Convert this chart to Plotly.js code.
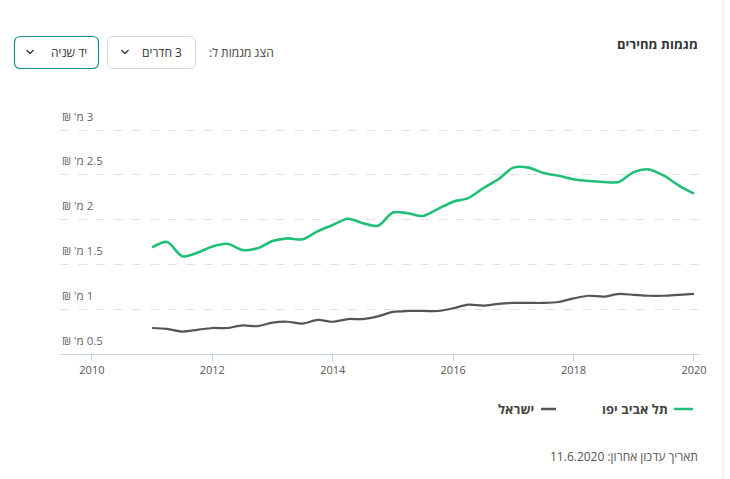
<!DOCTYPE html>
<html><head><meta charset="utf-8">
<script src="https://cdn.plot.ly/plotly-3.0.1.min.js"></script>
<style>html,body{margin:0;padding:0;background:#fff}</style>
</head><body><div id="chart" style="width:730px;height:479px"></div>
<script>
// ---- data ----
const quarters = [2011.00,2011.25,2011.50,2011.75,2012.00,2012.25,2012.50,2012.75,
  2013.00,2013.25,2013.50,2013.75,2014.00,2014.25,2014.50,2014.75,
  2015.00,2015.25,2015.50,2015.75,2016.00,2016.25,2016.50,2016.75,
  2017.00,2017.25,2017.50,2017.75,2018.00,2018.25,2018.50,2018.75,
  2019.00,2019.25,2019.50,2019.75,2020.00];
const telAvivYafo = [1.69,1.75,1.59,1.63,1.70,1.73,1.66,1.68,
  1.76,1.79,1.78,1.87,1.94,2.01,1.96,1.93,
  2.08,2.07,2.04,2.12,2.20,2.24,2.35,2.45,
  2.58,2.58,2.52,2.49,2.45,2.43,2.42,2.42,
  2.53,2.56,2.49,2.38,2.29];
const israel = [0.79,0.78,0.75,0.77,0.79,0.79,0.82,0.81,
  0.85,0.86,0.84,0.88,0.86,0.89,0.89,0.92,
  0.97,0.98,0.98,0.98,1.01,1.05,1.04,1.06,
  1.07,1.07,1.07,1.08,1.12,1.15,1.14,1.17,
  1.16,1.15,1.15,1.16,1.17];
const seriesNames = ['תל אביב יפו','ישראל'];
const yTickVals = [0.5,1,1.5,2,2.5,3];
const yTickText = ['0.5','1','1.5','2','2.5','3'];
const xTickVals = [2010,2012,2014,2016,2018,2020];
const titleText = 'מגמות מחירים';
const filterLabel = 'הצג מגמות ל:';
const roomsBtn = '3 חדרים';
const typeBtn = 'יד שניה';
const updatedText = 'תאריך עדכון אחרון: 11.6.2020';

// ---- helpers ----
const RLE='\u202B', PDF='\u202C';
const rtl = s => RLE + s + PDF;
const L=60, R=30, T=125, B=125, W=730, H=479;
const PW=W-L-R, PH=H-T-B;
const X = px => (px-L)/PW;
const Y = py => (H-B-py)/PH;
function rr(x0,y0,x1,y1,r){
  const p=(x,y)=>X(x)+','+Y(y);
  return 'M'+p(x0+r,y0)+' L'+p(x1-r,y0)+' Q'+p(x1,y0)+' '+p(x1,y0+r)+
    ' L'+p(x1,y1-r)+' Q'+p(x1,y1)+' '+p(x1-r,y1)+
    ' L'+p(x0+r,y1)+' Q'+p(x0,y1)+' '+p(x0,y1-r)+
    ' L'+p(x0,y0+r)+' Q'+p(x0,y0)+' '+p(x0+r,y0)+' Z';
}
function chev(cx,cy){
  return 'M'+X(cx-3.5)+','+Y(cy-2)+' L'+X(cx)+','+Y(cy+1.5)+' L'+X(cx+3.5)+','+Y(cy-2);
}
const FONT = '"Open Sans", "Noto Sans", "DejaVu Sans", sans-serif';
const GREEN = '#1fbf75', GRAY = '#555555';

const traces = [
  {x: quarters, y: telAvivYafo, name: seriesNames[0], type:'scatter', mode:'lines',
   line:{color:GREEN, width:2.6, shape:'spline', smoothing:0.8}, hoverinfo:'y'},
  {x: quarters, y: israel, name: seriesNames[1], type:'scatter', mode:'lines',
   line:{color:GRAY, width:2.2, shape:'spline', smoothing:0.8}, hoverinfo:'y'}
];

const ann = (text, px, py, anchor, size, color, bold) => ({
  text: bold ? '<b>'+text+'</b>' : text, xref:'paper', yref:'paper',
  x: X(px), y: Y(py), xanchor: anchor, yanchor:'middle', showarrow:false,
  font:{family:FONT, size:size, color:color}
});

const yLabelAnns = yTickVals.map((v,i) => ({
  text: rtl(yTickText[i] + " מ' ₪"), xref:'paper', yref:'y', x:0, y:v,
  xanchor:'left', yanchor:'middle', yshift:14, showarrow:false,
  font:{family:FONT, size:11.5, color:'#666'}
}));

const layout = {
  width:W, height:H, margin:{l:L, r:R, t:T, b:B},
  paper_bgcolor:'#fff', plot_bgcolor:'#fff', showlegend:false,
  font:{family:FONT},
  xaxis:{range:[2009.47,2020.1], tickvals:xTickVals, ticktext:xTickVals.map(String),
    showgrid:false, zeroline:false, showline:true, linecolor:'#c7d4e7', linewidth:1,
    ticks:'outside', ticklen:6, tickcolor:'#c7d4e7',
    tickfont:{family:FONT, size:11, color:'#555'}},
  yaxis:{range:[0.5,3.0558], tickvals:yTickVals, showticklabels:false,
    showgrid:true, gridcolor:'#e2e2e2', griddash:'dash', gridwidth:1,
    zeroline:false, showline:false, ticks:''},
  shapes:[
    {type:'line', xref:'paper', yref:'paper', x0:X(723), x1:X(723), y0:Y(0), y1:Y(H),
     line:{color:'#e9e9e9', width:1}},
    {type:'path', xref:'paper', yref:'paper', path:rr(14.5,36.5,98.5,68.5,6),
     line:{color:'#1e8b8b', width:1.2}, fillcolor:'rgba(0,0,0,0)'},
    {type:'path', xref:'paper', yref:'paper', path:rr(107.5,36.5,195.5,68.5,6),
     line:{color:'#d9d9d9', width:1}, fillcolor:'rgba(0,0,0,0)'},
    {type:'path', xref:'paper', yref:'paper', path:chev(30,52), line:{color:'#333', width:1.3}},
    {type:'path', xref:'paper', yref:'paper', path:chev(125,52), line:{color:'#333', width:1.3}},
    {type:'line', xref:'paper', yref:'paper', x0:X(674), x1:X(693), y0:Y(409), y1:Y(409),
     line:{color:GREEN, width:2.5}},
    {type:'line', xref:'paper', yref:'paper', x0:X(541), x1:X(556), y0:Y(409), y1:Y(409),
     line:{color:GRAY, width:2.5}}
  ],
  annotations:[
    ann(rtl(titleText), 700, 44, 'right', 13, '#333', true),
    ann(rtl(filterLabel), 276, 52, 'right', 12, '#444', false),
    ann(rtl(typeBtn), 89, 52, 'right', 12, '#333', false),
    ann(rtl(roomsBtn), 184, 52, 'right', 12, '#333', false),
    ann(rtl(seriesNames[0]), 670, 409, 'right', 13, '#444', true),
    ann(rtl(seriesNames[1]), 536, 409, 'right', 13, '#444', true),
    ann(rtl(updatedText), 700, 456, 'right', 12, '#555', false)
  ].concat(yLabelAnns)
};
Plotly.newPlot('chart', traces, layout, {displayModeBar:false, staticPlot:true});
</script></body></html>
